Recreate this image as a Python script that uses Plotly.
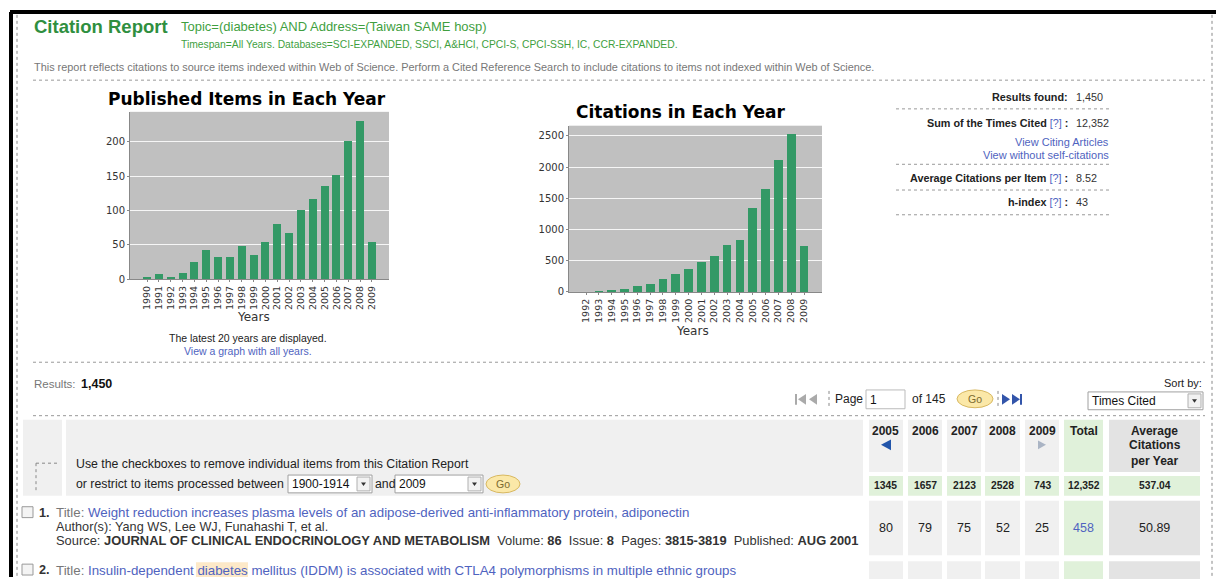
import plotly.graph_objects as go

W, H = 1216, 583

# ---------------- data ----------------
pub_years = ['1990', '1991', '1992', '1993', '1994', '1995', '1996', '1997', '1998', '1999',
             '2000', '2001', '2002', '2003', '2004', '2005', '2006', '2007', '2008', '2009']
pub_items = [3, 7, 4, 9, 25, 43, 32, 32, 48, 36, 54, 80, 67, 101, 117, 136, 152, 201, 231, 55]

cit_years = ['1992', '1993', '1994', '1995', '1996', '1997', '1998', '1999', '2000',
             '2001', '2002', '2003', '2004', '2005', '2006', '2007', '2008', '2009']
cit_counts = [3, 12, 30, 50, 95, 125, 210, 285, 365, 490, 575, 760, 840, 1345, 1657, 2123, 2528, 743]

pub_ticks = [0, 50, 100, 150, 200]
cit_ticks = [0, 500, 1000, 1500, 2000, 2500]

tbl_years = ['2005', '2006', '2007', '2008', '2009']
tbl_totals = ['1345', '1657', '2123', '2528', '743']
tbl_grand_total = '12,352'
tbl_grand_avg = '537.04'
row1_vals = ['80', '79', '75', '52', '25']
row1_total = '458'
row1_avg = '50.89'

stats_results = '1,450'
stats_sum = '12,352'
stats_avg = '8.52'
stats_h = '43'

# ---------------- styles ----------------
BAR = '#339966'
PLOTBG = '#c0c0c0'
GREEN_T = '#2f8f3f'
GREEN = '#3f9f3f'
GREY_T = '#777777'
LINK = '#4f63c0'
CELL = '#f0f0f0'
CELL2 = '#e3e3e3'
CELLG = '#e0f1da'
SANS = 'Liberation Sans, Arial, sans-serif'
JAVA = 'DejaVu Sans, sans-serif'


def px(x):
    return x / W


def py(y):
    return 1 - y / H


annotations = []
shapes = []


def T(x, y, text, size=10, color='#000', xanchor='left', family=SANS, yanchor='middle'):
    annotations.append(dict(x=px(x), y=py(y), xref='paper', yref='paper', text=text,
                            showarrow=False, xanchor=xanchor, yanchor=yanchor,
                            font=dict(size=size, color=color, family=family),
                            borderpad=0, align='left'))


def rect(x0, y0, x1, y1, fill, line=None, lw=1, layer='below'):
    shapes.append(dict(type='rect', xref='paper', yref='paper', x0=px(x0), x1=px(x1),
                       y0=py(y1), y1=py(y0), fillcolor=fill, layer=layer,
                       line=dict(color=line or fill, width=lw if line else 0)))


def line(x0, y0, x1, y1, color='#999', width=1, dash='dot'):
    shapes.append(dict(type='line', xref='paper', yref='paper', x0=px(x0), x1=px(x1),
                       y0=py(y0), y1=py(y1), line=dict(color=color, width=width, dash=dash)))


def ellipse(x0, y0, x1, y1, fill, lc):
    shapes.append(dict(type='circle', xref='paper', yref='paper', x0=px(x0), x1=px(x1),
                       y0=py(y1), y1=py(y0), fillcolor=fill, line=dict(color=lc, width=1)))


def tri(xa, ya, xb, yb, xc, yc, color):
    shapes.append(dict(type='path', xref='paper', yref='paper',
                       path=f'M {px(xa)},{py(ya)} L {px(xb)},{py(yb)} L {px(xc)},{py(yc)} Z',
                       fillcolor=color, line=dict(color=color, width=0)))


def select_box(x0, y0, x1, y1, text, size=12):
    rect(x0, y0, x1, y1, 'white', '#a0a0a0')
    rect(x1 - 15, y0 + 2, x1 - 2, y1 - 2, '#f2f2f2', '#b0b0b0', layer='above')
    tri(x1 - 11, (y0 + y1) / 2 - 1.5, x1 - 6, (y0 + y1) / 2 - 1.5, x1 - 8.5, (y0 + y1) / 2 + 2, '#333')
    T(x0 + 3, (y0 + y1) / 2, text, size, '#111')


# ---------------- figure ----------------
fig = go.Figure()
fig.add_trace(go.Bar(x=pub_years, y=pub_items, marker=dict(color=BAR, line=dict(width=0)),
                     width=0.68, xaxis='x', yaxis='y', hoverinfo='x+y'))
fig.add_trace(go.Bar(x=cit_years, y=cit_counts, marker=dict(color=BAR, line=dict(width=0)),
                     width=0.68, xaxis='x2', yaxis='y2', hoverinfo='x+y'))

axis_common = dict(showline=True, linecolor='#888', linewidth=1, ticks='outside', ticklen=2,
                   tickcolor='#888', zeroline=False, fixedrange=True)
yfont = dict(family=JAVA, size=10, color='#333')
xfont = dict(family=JAVA, size=9.5, color='#333')

fig.update_layout(
    width=W, height=H, margin=dict(l=0, r=0, t=0, b=0), showlegend=False,
    paper_bgcolor='white', plot_bgcolor=PLOTBG, bargap=0,
    xaxis=dict(domain=[px(130), px(389)], anchor='y', type='category',
               range=[-1.44, len(pub_years) - 1 + 1.44], tickangle=-90, showgrid=False,
               tickmode='array', tickvals=pub_years, ticktext=pub_years, tickfont=xfont,
               **axis_common),
    yaxis=dict(domain=[py(282), py(113)], anchor='x', range=[0, 244], tickvals=pub_ticks,
               showgrid=True, gridcolor='rgba(255,255,255,0.85)', gridwidth=1, tickfont=yfont,
               **axis_common),
    xaxis2=dict(domain=[px(569), px(822)], anchor='y2', type='category',
                range=[-1.33, len(cit_years) - 1 + 1.4], tickangle=-90, showgrid=False,
                tickmode='array', tickvals=cit_years, ticktext=cit_years, tickfont=xfont,
                **axis_common),
    yaxis2=dict(domain=[py(295), py(127)], anchor='x2', range=[0, 2663], tickvals=cit_ticks,
                showgrid=True, gridcolor='rgba(255,255,255,0.85)', gridwidth=1, tickfont=yfont,
                **axis_common),
)

# chart titles and axis labels
T(247, 100, '<b>Published Items in Each Year</b>', 17, '#000', 'center', JAVA)
T(253, 320, 'Years', 12, '#333', 'center', JAVA)
T(680, 113, '<b>Citations in Each Year</b>', 17, '#000', 'center', JAVA)
T(692, 334, 'Years', 12, '#333', 'center', JAVA)

# page frame
line(10, 12, W, 12, '#000', 4, 'solid')
line(11, 12, 11, H, '#000', 4, 'solid')
line(17, 15, 17, H, '#888', 1, 'dot')
line(1212, 15, 1212, H, '#888', 1, 'dot')

# header
T(33, 27, '<b>Citation Report</b>', 18.5, GREEN_T)
T(180, 27, 'Topic=(diabetes) AND Address=(Taiwan SAME hosp)', 13, GREEN)
T(180, 45, 'Timespan=All Years. Databases=SCI-EXPANDED, SSCI, A&amp;HCI, CPCI-S, CPCI-SSH, IC, CCR-EXPANDED.', 10.3, GREEN)
T(33, 68, 'This report reflects citations to source items indexed within Web of Science. '
          'Perform a Cited Reference Search to include citations to items not indexed within Web of Science.',
  10.9, GREY_T)
line(33, 81, 1205, 81)

# stats panel
q = f"<span style='color:{LINK}'>[?]</span>"
SS = 10.8
T(1069, 98, '<b>Results found:</b>', SS, '#222', 'right')
T(1075, 98, stats_results, SS, '#333')
line(896, 110, 1110, 110)
T(1069, 124, f'<b>Sum of the Times Cited</b> {q}<b> :</b>', SS, '#222', 'right')
T(1075, 124, stats_sum, SS, '#333')
T(1110, 143, 'View Citing Articles', 11, LINK, 'right')
T(1110, 157, 'View without self-citations', 11, LINK, 'right')
line(896, 166, 1110, 166)
T(1069, 180, f'<b>Average Citations per Item</b> {q}<b> :</b>', SS, '#222', 'right')
T(1075, 180, stats_avg, SS, '#333')
line(896, 192, 1110, 192)
T(1069, 204, f'<b>h-index</b> {q}<b> :</b>', SS, '#222', 'right')
T(1075, 204, stats_h, SS, '#333')
line(896, 217, 1110, 217)

# below chart 1
T(248, 342, 'The latest 20 years are displayed.', 10.5, '#222', 'center')
T(248, 355, 'View a graph with all years.', 10.5, LINK, 'center')
line(33, 366, 1205, 366)

# results row / pagination
T(33, 388, 'Results:', 11.5, GREY_T)
T(80, 388, f'<b>{stats_results}</b>', 12.5, '#111')
rect(795, 398, 797, 409, '#aaa', layer='above')
tri(806, 398, 806, 409, 798, 403.5, '#aaa')
tri(817, 398, 817, 409, 809, 403.5, '#aaa')
line(829, 395, 829, 413, '#888')
T(834, 403, 'Page', 12, '#222')
rect(866, 394, 905, 413, 'white', '#bbb')
T(869, 404, '1', 12, '#111')
T(911, 403, 'of 145', 12, '#222')
ellipse(957, 394, 993, 412, '#fbe8a8', '#d8b860')
T(975, 403, 'Go', 10.5, '#7a6a30', 'center')
line(998, 395, 998, 413, '#888')
tri(1002, 398, 1002, 409, 1010, 403.5, '#3355aa')
tri(1012, 398, 1012, 409, 1020, 403.5, '#3355aa')
rect(1020, 398, 1022, 409, '#3355aa', layer='above')
T(1203, 387, 'Sort by:', 11, '#222', 'right')
select_box(1088, 396, 1203, 414, 'Times Cited')
line(33, 420, 1205, 420)

# table header
rect(23, 424, 62, 501, CELL)
rect(66, 424, 863, 501, CELL)
line(36, 468, 58, 468, '#888')
line(36, 468, 36, 498, '#888')
T(75, 469, 'Use the checkboxes to remove individual items from this Citation Report', 12.3, '#222')
T(75, 489, 'or restrict to items processed between', 12.3, '#222')
select_box(288, 480, 372, 498, '1900-1914')
T(374, 489, 'and', 12.3, '#222')
select_box(395, 480, 483, 498, '2009')
ellipse(486, 480, 520, 498, '#fbe8a8', '#d8b860')
T(503, 489, 'Go', 10.5, '#7a6a30', 'center')

col_x = [(869, 903), (908, 942), (947, 981), (985, 1020), (1025, 1059)]
tot_x = (1064, 1103)
avg_x = (1109, 1200)

for (x0, x1), yr, tv, rv in zip(col_x, tbl_years, tbl_totals, row1_vals):
    cx = (x0 + x1) / 2
    rect(x0, 424, x1, 477, CELL)
    T(cx, 435, f'<b>{yr}</b>', 12, '#222', 'center')
    rect(x0, 481, x1, 501, CELLG)
    T(cx, 491, f'<b>{tv}</b>', 10.3, '#222', 'center')
    rect(x0, 506, x1, 561, CELL)
    T(cx, 533, rv, 12.5, '#222', 'center')
    rect(x0, 567, x1, H + 2, CELL)

# arrows under first and last year
c0 = sum(col_x[0]) / 2
tri(c0 + 5, 444, c0 + 5, 455, c0 - 5, 449.5, '#2255aa')
c4 = sum(col_x[-1]) / 2
tri(c4 - 4, 445, c4 - 4, 454, c4 + 4, 449.5, '#aab4c4')

tcx = sum(tot_x) / 2
rect(tot_x[0], 424, tot_x[1], 477, CELLG)
T(tcx, 435, '<b>Total</b>', 12, '#222', 'center')
rect(tot_x[0], 481, tot_x[1], 501, CELLG)
T(tcx, 491, f'<b>{tbl_grand_total}</b>', 10.3, '#222', 'center')
rect(tot_x[0], 506, tot_x[1], 561, CELLG)
T(tcx, 533, row1_total, 12.5, LINK, 'center')
rect(tot_x[0], 567, tot_x[1], H + 2, CELLG)

acx = sum(avg_x) / 2
rect(avg_x[0], 424, avg_x[1], 477, CELL2)
T(acx, 435, '<b>Average</b>', 12, '#222', 'center')
T(acx, 450, '<b>Citations</b>', 12, '#222', 'center')
T(acx, 466, '<b>per Year</b>', 12, '#222', 'center')
rect(avg_x[0], 481, avg_x[1], 501, CELLG)
T(acx, 491, f'<b>{tbl_grand_avg}</b>', 10.3, '#222', 'center')
rect(avg_x[0], 506, avg_x[1], 561, CELL2)
T(acx, 533, row1_avg, 12.5, '#222', 'center')
rect(avg_x[0], 567, avg_x[1], H + 2, CELL2)

# records
TS, RS = 13.3, 12.7
rect(22, 512, 33, 523, '#f4f4f4', '#999', layer='above')
T(38, 518, '<b>1.</b>', RS, '#333')
T(55, 518, f"<span style='color:{GREY_T}'>Title: </span>Weight reduction increases plasma levels of an "
           "adipose-derived anti-inflammatory protein, adiponectin", TS, LINK)
T(55, 532, 'Author(s): Yang WS, Lee WJ, Funahashi T, et al.', RS, '#333')
T(55, 546, 'Source: <b>JOURNAL OF CLINICAL ENDOCRINOLOGY AND METABOLISM</b>  Volume: <b>86</b>  '
           'Issue: <b>8</b>  Pages: <b>3815-3819</b>  Published: <b>AUG 2001</b>', 12.9, '#333')

rect(22, 570, 33, 581, '#f4f4f4', '#999', layer='above')
T(38, 576, '<b>2.</b>', RS, '#333')
rect(196, 568, 248, 583, '#fde9c8')
T(55, 576, f"<span style='color:{GREY_T}'>Title: </span>Insulin-dependent diabetes mellitus (IDDM) is "
           "associated with CTLA4 polymorphisms in multiple ethnic groups", TS, LINK)

fig.update_layout(annotations=annotations, shapes=shapes)
fig.write_html('out.html', config={'displayModeBar': False}, post_script=(
    "document.documentElement.style.margin='0';document.body.style.margin='0';"
    "document.documentElement.style.overflow='hidden';document.body.style.overflow='hidden';"))
